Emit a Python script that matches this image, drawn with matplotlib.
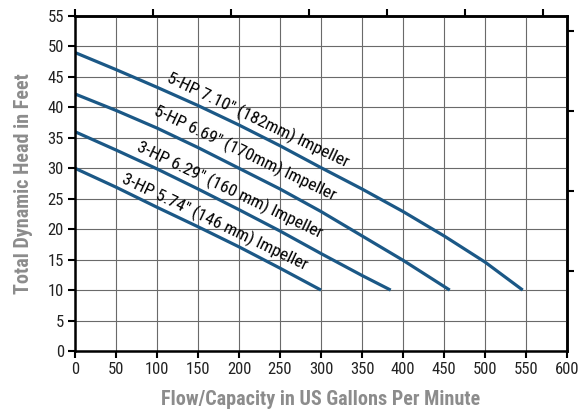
import matplotlib.pyplot as plt
import numpy as np

plt.rcParams['font.family'] = ['Roboto Condensed', 'Liberation Sans Narrow', 'Roboto', 'DejaVu Sans']

# flow (US gpm) and head (ft)
flow_710 = [0, 50, 100, 150, 200, 250, 300, 350, 400, 450, 500, 546]
head_710 = [49.0, 46.2, 43.3, 40.3, 37.1, 33.7, 30.1, 26.6, 22.9, 18.9, 14.6, 10.0]

flow_669 = [0, 50, 100, 150, 200, 250, 300, 350, 400, 457]
head_669 = [42.2, 39.5, 36.6, 33.4, 30.0, 26.6, 22.9, 18.9, 14.9, 10.0]

flow_629 = [0, 50, 100, 150, 200, 250, 300, 350, 385]
head_629 = [36.0, 33.0, 29.9, 26.6, 23.2, 19.7, 16.0, 12.4, 10.0]

flow_574 = [0, 50, 100, 150, 200, 250, 300]
head_574 = [30.0, 26.9, 23.6, 20.4, 17.1, 13.6, 10.0]

labels = ['5-HP 7.10" (182mm) Impeller',
          '5-HP 6.69" (170mm) Impeller',
          '3-HP 6.29" (160 mm) Impeller',
          '3-HP 5.74" (146 mm) Impeller']
label_pos = [(223, 37.9), (207, 32.5), (189, 26.4), (170, 21.2)]

xticks = np.arange(0, 601, 50)
yticks = np.arange(0, 56, 5)

fig = plt.figure(figsize=(5.79, 4.13), dpi=100)
ax = fig.add_axes([0.1295, 0.1501, 0.8498, 0.8112])

blue = '#1b5886'
curves = [(flow_710, head_710), (flow_669, head_669),
          (flow_629, head_629), (flow_574, head_574)]
for (f, h) in curves:
    ax.plot(f, h, color=blue, lw=2.3, solid_capstyle='butt', solid_joinstyle='round')

for lab, (x, y) in zip(labels, label_pos):
    ax.text(x, y, lab, rotation=-25.5, rotation_mode='anchor',
            ha='center', va='center', fontsize=12.5, color='black')

ax.set_xlim(0, 600)
ax.set_ylim(0, 55)
ax.set_xticks(xticks)
ax.set_yticks(yticks)
ax.grid(True, color='#6a6a6a', lw=0.8)
ax.set_axisbelow(True)
for s in ax.spines.values():
    s.set_linewidth(1.8)
ax.tick_params(axis='both', direction='out', length=5, width=1.5,
               labelsize=12, pad=3, labelcolor='#222222')

# metric scales shown only as ticks on top (L/s) and right (m)
top = ax.secondary_xaxis('top', functions=(lambda g: g / 15.850, lambda l: l * 15.850))
top.set_xticks(np.arange(0, 37, 6))
top.tick_params(direction='out', length=5, width=1.5, labeltop=False)
top.spines['top'].set_linewidth(1.8)
right = ax.secondary_yaxis('right', functions=(lambda ft: ft * 0.3048, lambda m: m / 0.3048))
right.set_yticks(np.arange(4, 17, 4))
right.tick_params(direction='out', length=5, width=1.5, labelright=False)
right.spines['right'].set_linewidth(1.8)

ax.set_xlabel('Flow/Capacity in US Gallons Per Minute', fontsize=14.5,
              color='#8c8c8c', fontweight='bold', labelpad=9)
ax.set_ylabel('Total Dynamic Head in Feet', fontsize=14.5,
              color='#8c8c8c', fontweight='bold', labelpad=10)

fig.savefig('out.png', dpi=100)
